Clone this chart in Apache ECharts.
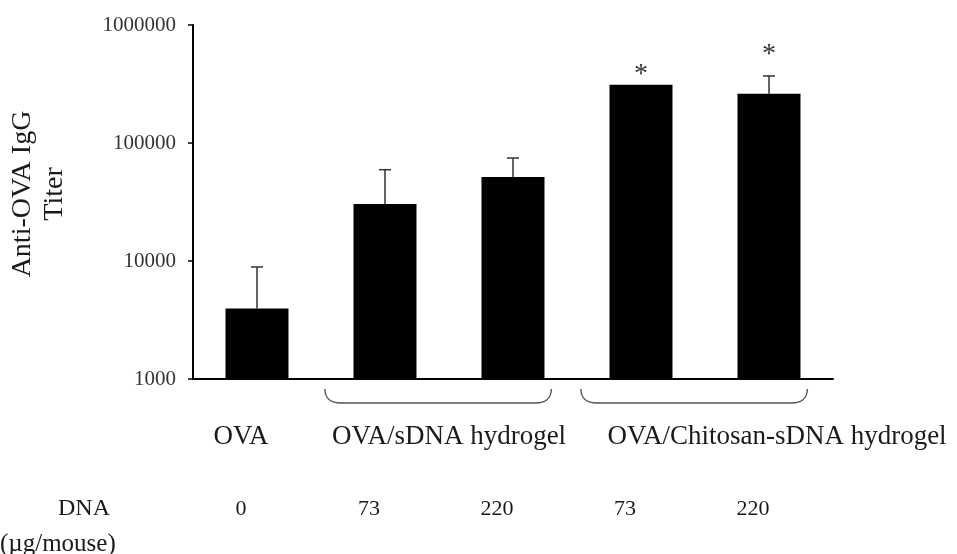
<!DOCTYPE html>
<html>
<head>
<meta charset="utf-8">
<script src="https://cdn.jsdelivr.net/npm/echarts@6/dist/echarts.min.js"></script>
<style>
  html, body { margin: 0; padding: 0; background: #fff; }
  #chart { width: 957px; height: 554px; }
</style>
</head>
<body>
<div id="chart"></div>
<script>
// values (log scale)
const categories = ['OVA', 'OVA/sDNA 73', 'OVA/sDNA 220', 'OVA/Chitosan-sDNA 73', 'OVA/Chitosan-sDNA 220']
const doseLabels = ['0', '73', '220', '73', '220']
const titerMean = [3950, 30400, 51500, 312000, 262000]
const titerUpper = [8900, 59400, 74600, null, 370000]
const sigMarks = ['', '', '', '*', '*']
const sigLevel = [null, null, null, 436000, 645000]

const groupNames = ['OVA', 'OVA/sDNA hydrogel', 'OVA/Chitosan-sDNA hydrogel']
const groupFrom = [0, 1, 3]
const groupTo = [0, 2, 4]

const FONT = '"Liberation Serif", "Times New Roman", serif'
const groupLabelShift = [-16, 0, 72]

const chart = echarts.init(document.getElementById('chart'))

function renderErrorBar(params, api) {
  const i = params.dataIndex
  const children = []
  const base = api.coord([i, titerMean[i]])
  if (titerUpper[i] != null) {
    const top = api.coord([i, titerUpper[i]])
    children.push({
      type: 'line',
      shape: { x1: base[0], y1: base[1], x2: top[0], y2: top[1] },
      style: { stroke: '#333', lineWidth: 1.5 }
    })
    children.push({
      type: 'line',
      shape: { x1: top[0] - 6, y1: top[1], x2: top[0] + 6, y2: top[1] },
      style: { stroke: '#333', lineWidth: 1.5 }
    })
  }
  if (sigMarks[i]) {
    const p = api.coord([i, sigLevel[i]])
    children.push({
      type: 'text',
      style: {
        x: p[0], y: p[1] + 7,
        text: sigMarks[i],
        font: '28px ' + FONT,
        fill: '#333',
        align: 'center',
        verticalAlign: 'middle'
      }
    })
  }
  return { type: 'group', children }
}

function renderGroup(params, api) {
  const g = params.dataIndex
  const band = api.size([1, 0])[0]
  const a = api.coord([groupFrom[g], 1000])
  const b = api.coord([groupTo[g], 1000])
  const y = a[1]
  const children = []
  if (groupFrom[g] !== groupTo[g]) {
    const l = a[0] - 0.47 * band
    const r = b[0] + 0.3 * band
    children.push({
      type: 'path',
      shape: {
        pathData: `M${l},${y + 10} C${l},${y + 19} ${l + 6},${y + 24} ${l + 16},${y + 24} ` +
          `L${r - 16},${y + 24} C${r - 6},${y + 24} ${r},${y + 19} ${r},${y + 10}`
      },
      style: { stroke: '#555', lineWidth: 1.4, fill: null }
    })
  }
  children.push({
    type: 'text',
    style: {
      x: (a[0] + b[0]) / 2 + groupLabelShift[g],
      y: y + 58,
      text: groupNames[g],
      font: '27px ' + FONT,
      fill: '#1a1a1a',
      align: 'center',
      verticalAlign: 'middle'
    }
  })
  return { type: 'group', children }
}

const option = {
  animation: false,
  grid: { left: 193, right: 124, top: 25, bottom: 175 },
  xAxis: {
    type: 'category',
    data: categories,
    axisLine: { lineStyle: { color: '#000', width: 2 } },
    axisTick: { show: false },
    axisLabel: {
      margin: 119,
      fontFamily: FONT,
      fontSize: 22,
      color: '#1a1a1a',
      padding: [0, 32, 0, 0],
      formatter: (v, i) => doseLabels[i]
    }
  },
  yAxis: {
    type: 'log',
    logBase: 10,
    min: 1000,
    max: 1000000,
    axisLine: { show: true, lineStyle: { color: '#000', width: 2 } },
    axisTick: { show: true, length: 5, lineStyle: { color: '#000', width: 1.5 } },
    splitLine: { show: false },
    axisLabel: {
      margin: 17,
      fontFamily: FONT,
      fontSize: 21,
      color: '#333',
      formatter: (v) => String(Math.round(v))
    }
  },
  graphic: [
    {
      type: 'text',
      x: 39, y: 194,
      rotation: Math.PI / 2,
      style: {
        text: 'Anti-OVA IgG\nTiter',
        font: '28px ' + FONT,
        lineHeight: 32,
        fill: '#1a1a1a',
        align: 'center',
        verticalAlign: 'middle'
      }
    },
    {
      type: 'text',
      x: 84, y: 509,
      style: {
        text: 'DNA',
        font: '24px ' + FONT,
        fill: '#1a1a1a',
        align: 'center',
        verticalAlign: 'middle'
      }
    },
    {
      type: 'text',
      x: 0, y: 544,
      style: {
        text: '(µg/mouse)',
        font: '25px ' + FONT,
        fill: '#1a1a1a',
        align: 'left',
        verticalAlign: 'middle'
      }
    }
  ],
  series: [
    {
      type: 'bar',
      data: titerMean,
      barWidth: 63,
      itemStyle: { color: '#000' }
    },
    {
      type: 'custom',
      renderItem: renderErrorBar,
      data: titerMean.map((v, i) => [i, v]),
      z: 3
    },
    {
      type: 'custom',
      renderItem: renderGroup,
      clip: false,
      data: groupNames.map((n, g) => [groupFrom[g], 1000]),
      z: 3
    }
  ]
}

chart.setOption(option)
</script>
</body>
</html>
